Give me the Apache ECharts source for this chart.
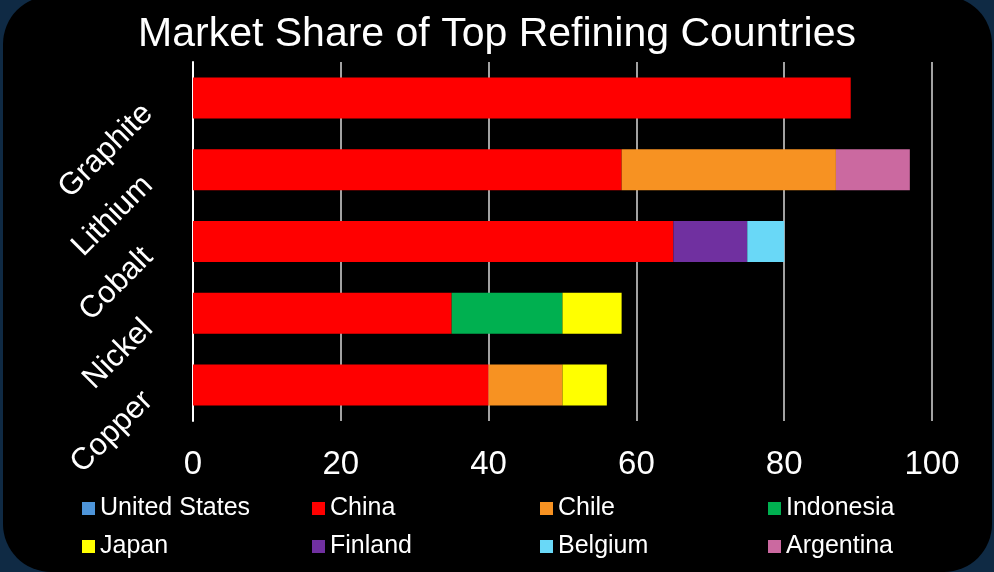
<!DOCTYPE html>
<html>
<head>
<meta charset="utf-8">
<script src="https://cdn.jsdelivr.net/npm/echarts@6/dist/echarts.min.js"></script>
<style>
  html, body { margin: 0; padding: 0; background: #0f2a44; }
  #chart { width: 994px; height: 572px; }
</style>
</head>
<body>
<div id="chart"></div>
<script>
// Minerals (top to bottom) and refining share by country, in percent
const minerals = ['Graphite', 'Lithium', 'Cobalt', 'Nickel', 'Copper'];
const countries = ['United States', 'China', 'Chile', 'Indonesia', 'Japan', 'Finland', 'Belgium', 'Argentina'];
const unitedStates = [0, 0, 0, 0, 0];
const china        = [89, 58, 65, 35, 40];
const chile        = [0, 29, 0, 0, 10];
const indonesia    = [0, 0, 0, 15, 0];
const japan        = [0, 0, 0, 8, 6];
const finland      = [0, 0, 10, 0, 0];
const belgium      = [0, 0, 5, 0, 0];
const argentina    = [0, 10, 0, 0, 0];
const xTicks = [0, 20, 40, 60, 80, 100];

const shares = [unitedStates, china, chile, indonesia, japan, finland, belgium, argentina];
const colors = ['#4e95d9', '#ff0000', '#f79222', '#00b050', '#ffff00', '#7030a0', '#69d8f7', '#cb69a0'];

const font = '"Liberation Sans", Arial, sans-serif';
const chart = echarts.init(document.getElementById('chart'), null, { renderer: 'canvas' });

// Legend laid out as a 4-column grid: one legend component per entry
const legendCols = [82, 312, 540, 768];
const legendRows = [496, 534];
const legends = countries.map((name, i) => ({
  data: [name],
  left: legendCols[i % 4],
  top: legendRows[Math.floor(i / 4)],
  padding: 0,
  itemWidth: 13, itemHeight: 13, icon: 'rect',
  textStyle: { color: '#ffffff', fontSize: 25, fontFamily: font }
}));

chart.setOption({
  backgroundColor: '#0f2a44',
  animation: false,
  graphic: [{
    type: 'rect',
    z: -10,
    shape: { x: 3, y: -4, width: 989, height: 576, r: 48 },
    style: { fill: '#000000' }
  }],
  title: {
    text: 'Market Share of Top Refining Countries',
    left: 'center',
    top: 9,
    textStyle: { color: '#ffffff', fontSize: 41, fontWeight: 'normal', fontFamily: font }
  },
  legend: legends,
  grid: { left: 193, right: 62, top: 62, bottom: 151, containLabel: false },
  xAxis: {
    type: 'value',
    min: 0, max: 100, interval: 20,
    axisLine: { show: false },
    axisTick: { show: false },
    splitLine: { show: true, lineStyle: { color: '#d9d9d9', width: 1.5 } },
    axisLabel: {
      color: '#ffffff', fontSize: 33, fontFamily: font, margin: 27,
      formatter: v => (xTicks.includes(v) ? String(v) : '')
    }
  },
  yAxis: {
    type: 'category',
    data: minerals,
    inverse: true,
    axisLine: { show: true, lineStyle: { color: '#ffffff', width: 2 } },
    axisTick: { show: false },
    axisLabel: {
      color: '#ffffff', fontSize: 31, fontFamily: font, rotate: 45,
      margin: 56, verticalAlign: 'top'
    }
  },
  series: countries.map((name, i) => ({
    name,
    type: 'bar',
    stack: 'share',
    barWidth: 41,
    data: shares[i],
    itemStyle: { color: colors[i] }
  }))
});
</script>
</body>
</html>
